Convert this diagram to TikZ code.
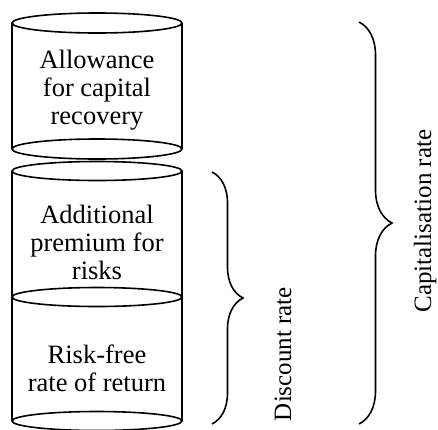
\documentclass[tikz,border=0pt]{standalone}
\usepackage{fontspec}
\setmainfont{Liberation Serif}
\usepackage{tikz}
\usetikzlibrary{decorations.pathreplacing}

\begin{document}
\begin{tikzpicture}[x=1pt,y=-1pt,line width=1.6pt,
		drumtext/.style={font=\fontsize{26.5}{28}\selectfont,align=center,inner sep=0pt},
		ratetext/.style={font=\fontsize{25}{28}\selectfont,rotate=90,anchor=base,inner sep=0pt},
		curly/.style={decorate,decoration={brace,amplitude=#1}}]
		\useasboundingbox (0,0) rectangle (438,429);

		% upper drum
		\draw (97,23) ellipse (85 and 10);
		\draw (12,23) -- (12,149);
		\draw (182,23) -- (182,149);
		\draw (97,149) ellipse (85 and 10);
		\node[drumtext] (recovery) at (97,90) {Allowance\\for capital\\recovery};

		% lower drum, two layers
		\draw (97,171) ellipse (85 and 9.5);
		\draw (12,171) -- (12,421);
		\draw (182,171) -- (182,421);
		\draw (97,297) ellipse (85 and 9.5);
		\draw (97,421) ellipse (85 and 9.5);
		\node[drumtext] (premium) at (97,242.5) {Additional\\premium for\\risks};
		\node[drumtext] (riskfree) at (97,368.5) {Risk-free\\rate of return};

		% braces
		\coordinate (disctop) at (212,172);
		\coordinate (discbot) at (212,424);
		\draw[curly=31] (disctop) -- (discbot);
		\node[ratetext] (discount) at (291,354) {Discount rate};

		\coordinate (captop) at (359,22);
		\coordinate (capbot) at (359,424);
		\draw[curly=33] (captop) -- (capbot);
		\node[ratetext] (capital) at (431,221) {Capitalisation rate};
	\end{tikzpicture}
\end{document}
